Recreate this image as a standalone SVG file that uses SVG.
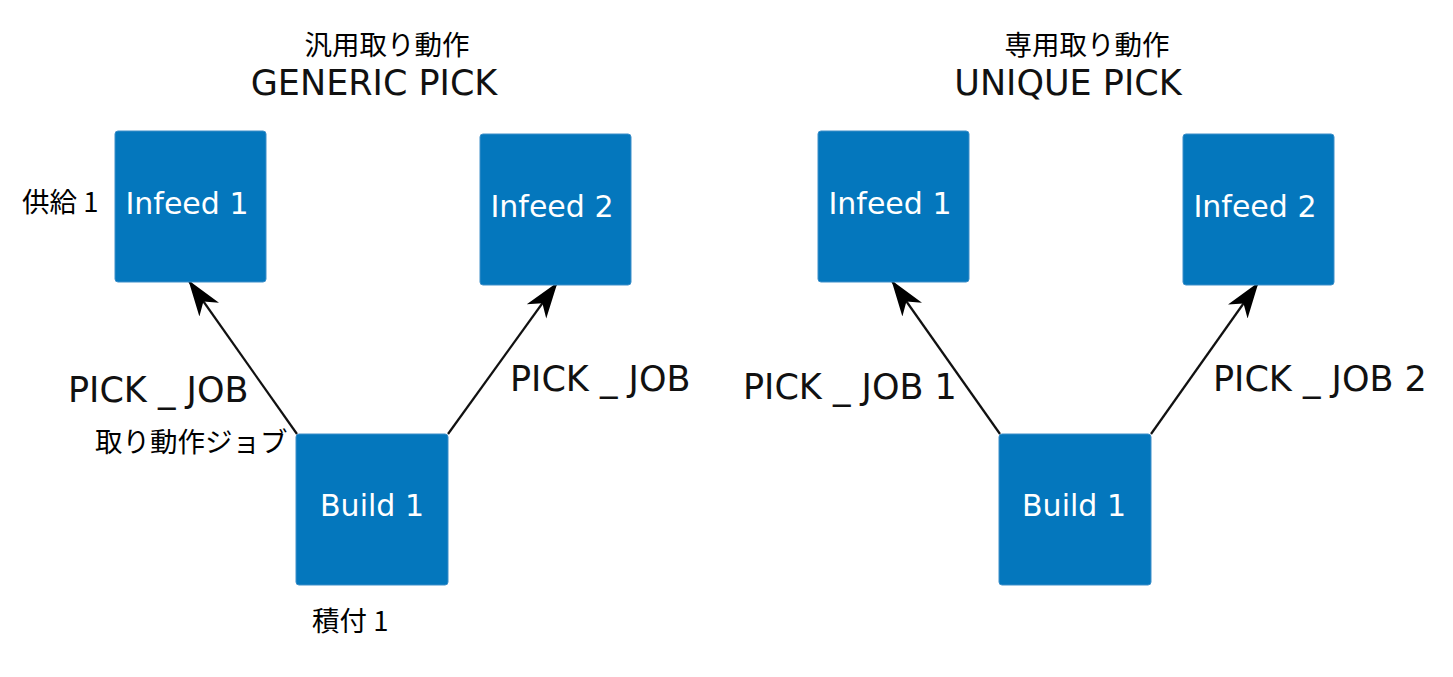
<svg xmlns="http://www.w3.org/2000/svg" width="1453" height="677" viewBox="0 0 1453 677">
<style>
.node rect{fill:#0477bd;stroke:#3d8fc9;stroke-width:1}
.node text{fill:#fff;font-family:"DejaVu Sans",sans-serif;font-size:30px;text-anchor:middle}
.lat{font-family:"DejaVu Sans",sans-serif;fill:#111}
.jp{font-family:"Noto Sans CJK JP",sans-serif;fill:#000;font-size:27.5px}
.edge{stroke:#111;stroke-width:2.2;fill:none}
</style>
<defs>
<marker id="ah" markerUnits="userSpaceOnUse" viewBox="0 0 36 26" refX="35" refY="13" markerWidth="36" markerHeight="26" orient="auto">
<path d="M0,1 L36,13 L0,25 L10,13 Z" fill="#000"/>
</marker>
</defs>
<rect width="1453" height="677" fill="#fff"/>
<text class="jp" x="387" y="55" text-anchor="middle">汎用取り動作</text>
<text class="lat" x="374" y="95" font-size="35" text-anchor="middle">GENERIC PICK</text>
<text class="jp" x="1087" y="55" text-anchor="middle">専用取り動作</text>
<text class="lat" x="1068" y="95" font-size="35" text-anchor="middle">UNIQUE PICK</text>
<text class="jp" x="22" y="212">供給 1</text>
<text class="jp" x="95" y="452">取り動作ジョブ</text>
<text class="jp" x="312" y="631">積付 1</text>
<g id="connectors">
<line class="edge" x1="297" y1="434" x2="189" y2="281" marker-end="url(#ah)"/>
<line class="edge" x1="448" y1="434" x2="557" y2="283" marker-end="url(#ah)"/>
<line class="edge" x1="1000" y1="434" x2="892" y2="281" marker-end="url(#ah)"/>
<line class="edge" x1="1151" y1="434" x2="1258" y2="283" marker-end="url(#ah)"/>
<text class="lat" x="68" y="402" font-size="35">PICK _ JOB</text>
<text class="lat" x="510" y="391" font-size="35">PICK _ JOB</text>
<text class="lat" x="743" y="399" font-size="35">PICK _ JOB 1</text>
<text class="lat" x="1213" y="391" font-size="35">PICK _ JOB 2</text>
</g>
<g id="g-infeed1" class="node"><rect x="115" y="131" width="151" height="151" rx="3"/><text x="187" y="214">Infeed 1</text></g>
<g id="g-infeed2" class="node"><rect x="480" y="134" width="151" height="151" rx="3"/><text x="552" y="217">Infeed 2</text></g>
<g id="g-build1" class="node"><rect x="296" y="434" width="152" height="151" rx="3"/><text x="372" y="516">Build 1</text></g>
<g id="u-infeed1" class="node"><rect x="818" y="131" width="151" height="151" rx="3"/><text x="890" y="214">Infeed 1</text></g>
<g id="u-infeed2" class="node"><rect x="1183" y="134" width="151" height="151" rx="3"/><text x="1255" y="217">Infeed 2</text></g>
<g id="u-build1" class="node"><rect x="999" y="434" width="152" height="151" rx="3"/><text x="1074" y="516">Build 1</text></g>
</svg>
